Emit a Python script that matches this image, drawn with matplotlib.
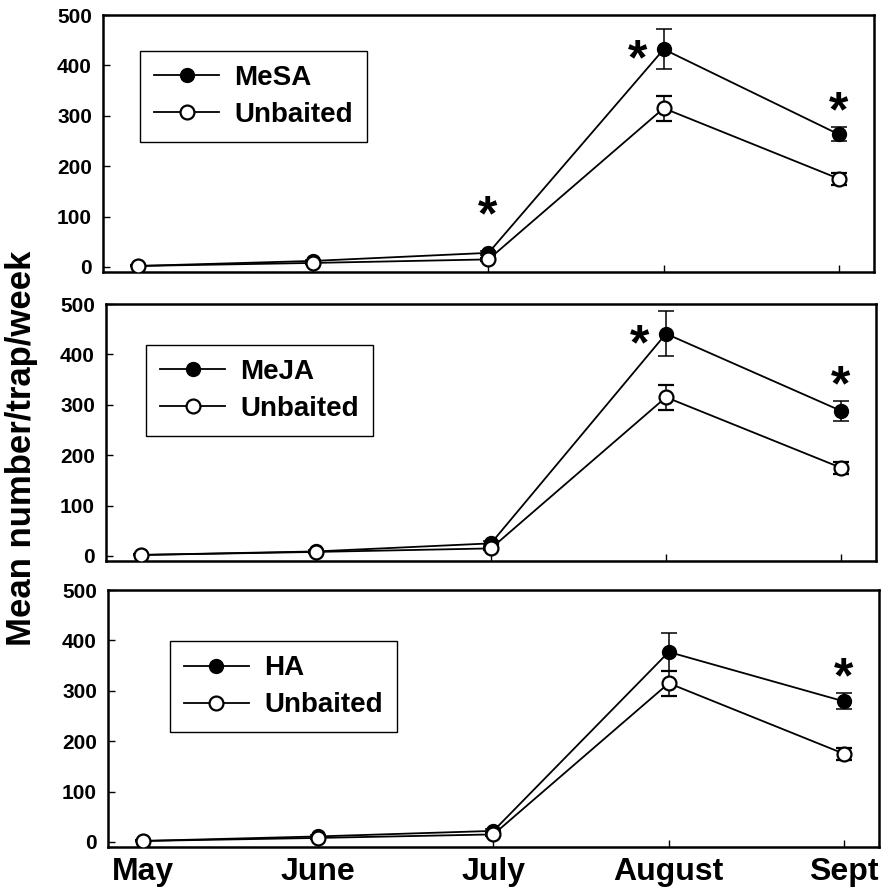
import numpy as np
import matplotlib.pyplot as plt
from matplotlib.lines import Line2D

plt.rcParams['font.family'] = ['Liberation Sans', 'DejaVu Sans']
plt.rcParams['font.weight'] = 'bold'

# Data
months = ['May', 'June', 'July', 'August', 'Sept']
unbaited = [2, 8, 15, 315, 175]
unbaited_err = [1, 2, 3, 25, 12]

mesa = [2, 12, 28, 432, 263]
mesa_err = [1, 2, 4, 40, 14]
mesa_sig = ['July', 'August', 'Sept']

meja = [2, 9, 25, 441, 288]
meja_err = [1, 2, 4, 45, 20]
meja_sig = ['August', 'Sept']

ha = [2, 11, 22, 377, 279]
ha_err = [1, 2, 3, 38, 16]
ha_sig = ['Sept']

panels = [('MeSA', mesa, mesa_err, mesa_sig),
          ('MeJA', meja, meja_err, meja_sig),
          ('HA', ha, ha_err, ha_sig)]

# axes boxes in pixels: left, right, top, bottom
W, H = 883, 896
boxes = [(103, 874, 15, 272), (106, 876, 304, 561), (108, 879, 590, 847)]
leg_pos = [(0.048, 0.86), (0.052, 0.84), (0.080, 0.80)]

fig = plt.figure(figsize=(W / 100, H / 100), dpi=100)
x = np.arange(len(months))

for i, (name, vals, errs, sig) in enumerate(panels):
    l, r, t, b = boxes[i]
    ax = fig.add_axes([l / W, 1 - b / H, (r - l) / W, (b - t) / H])
    ax.errorbar(x, vals, yerr=errs, color='black', lw=1.3, marker='o',
                ms=10, mfc='black', mec='black', capsize=6, elinewidth=1.1,
                capthick=1.1, zorder=3)
    ax.errorbar(x, unbaited, yerr=unbaited_err, color='black', lw=1.3,
                marker='o', ms=10, mfc='white', mec='black', mew=1.6,
                capsize=6, elinewidth=1.1, capthick=1.1, zorder=4)
    for m in sig:
        j = months.index(m)
        top = vals[j] + errs[j]
        if m == 'August':
            ax.annotate('*', (j, vals[j]), xytext=(-19, -9),
                        textcoords='offset points', ha='center', va='center',
                        fontsize=36, fontweight='bold')
        elif m == 'July':
            ax.annotate('*', (j, top), xytext=(-1, 24),
                        textcoords='offset points', ha='center', va='center',
                        fontsize=36, fontweight='bold')
        else:
            ax.annotate('*', (j, top), xytext=(0, 10),
                        textcoords='offset points', ha='center', va='center',
                        fontsize=36, fontweight='bold')

    ax.set_xlim(-0.2, 4.2)
    ax.set_ylim(-10, 500)
    ax.set_yticks([0, 100, 200, 300, 400, 500])
    ax.set_xticks(x)
    ax.tick_params(direction='in', length=5, width=1, labelsize=15, pad=8)
    if i == 2:
        ax.set_xticklabels(months, fontsize=23, fontweight='bold')
        ax.tick_params(axis='x', pad=7)
    else:
        ax.set_xticklabels([])
    for lab in ax.get_yticklabels():
        lab.set_fontweight('bold')
    for s in ax.spines.values():
        s.set_linewidth(1.8)

    h = [Line2D([], [], color='black', lw=1.3, marker='o', ms=10,
                mfc='black', mec='black'),
         Line2D([], [], color='black', lw=1.3, marker='o', ms=10,
                mfc='white', mec='black', mew=1.6)]
    leg = ax.legend(h, [name, 'Unbaited'], loc='upper left',
                    bbox_to_anchor=leg_pos[i], fancybox=False,
                    edgecolor='black', framealpha=1,
                    prop={'size': 20, 'weight': 'bold'}, handlelength=2.35,
                    borderpad=0.5, labelspacing=0.4, handletextpad=0.55,
                    borderaxespad=0)
    leg.get_frame().set_linewidth(1.0)

fig.text(0.024, 0.5, 'Mean number/trap/week', rotation=90, ha='center',
         va='center', fontsize=25, fontweight='bold')

fig.savefig('out.png', dpi=100)
